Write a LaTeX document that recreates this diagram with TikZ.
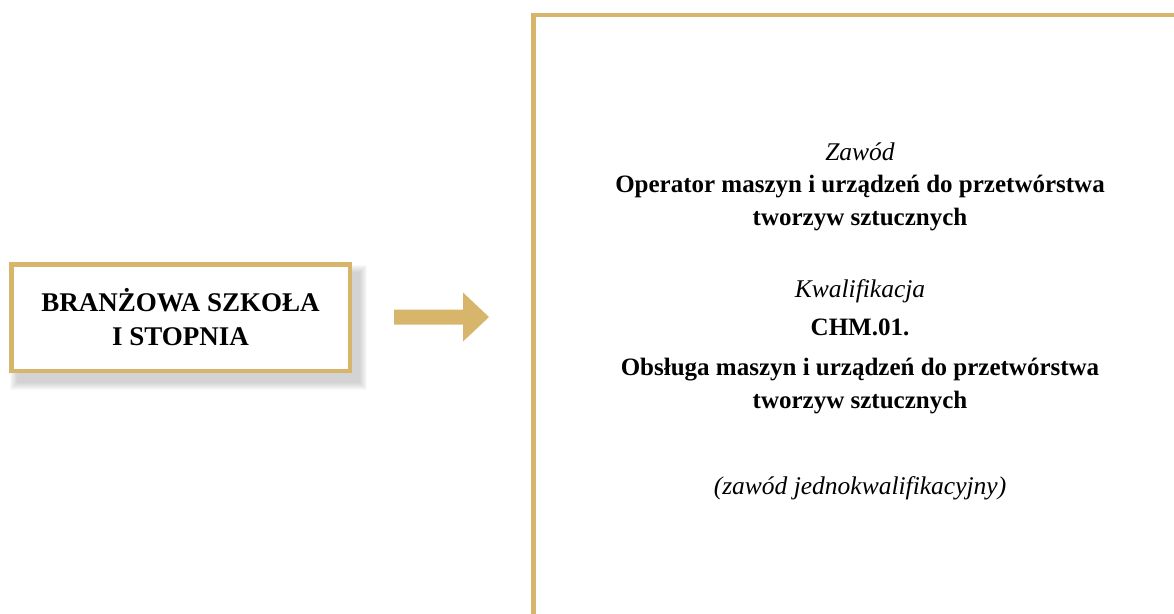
\documentclass[tikz,border=0pt]{standalone}
\usepackage{fontspec}
\setmainfont{Liberation Serif}
\usetikzlibrary{calc}
\definecolor{gold}{RGB}{215,181,106}
\pgfdeclarelayer{bg}
\pgfsetlayers{bg,main}
\tikzset{
  schoolbox/.style={draw=gold, line width=4.5pt, fill=white, minimum width=338.5pt,
    minimum height=106.5pt, inner sep=0pt, align=center,
    font=\fontsize{27}{34}\selectfont\bfseries},
  itline/.style={anchor=base, inner sep=0pt, font=\fontsize{25.5}{25.5}\selectfont\itshape},
  bdline/.style={anchor=base, inner sep=0pt, font=\fontsize{25}{25}\selectfont\bfseries},
  framebar/.style={draw=gold, line width=4.5pt, line join=miter},
  arrowfill/.style={fill=gold},
}
\begin{document}
\begin{tikzpicture}[x=1pt,y=-1pt]
\useasboundingbox (0,0) rectangle (1174,613);
\clip (0,0) rectangle (1174,613);
% left box
\node[schoolbox] (school) at (180.5,317.5) {BRANŻOWA SZKOŁA\\I STOPNIA};
\begin{pgfonlayer}{bg}
\foreach \k in {1,...,8}{
  \fill[black, opacity=0.022] ($(school.north west)+(9-\k,11-\k)$) rectangle ($(school.south east)+(7+\k,9+\k)$);
}
\end{pgfonlayer}
% right frame
\coordinate (fbot) at (533.3,620);
\coordinate (fcorner) at (533.3,15);
\coordinate (fright) at (1180,15);
\draw[framebar] (fbot) -- (fcorner) -- (fright);
% arrow
\coordinate (a1) at (394,317);
\coordinate (a2) at (489,317);
\fill[arrowfill] ($(a1)+(0,-7.5)$) -- ($(a1)+(69,-7.5)$) -- ($(a1)+(69,-24.5)$) -- (a2)
  -- ($(a1)+(69,24.5)$) -- ($(a1)+(69,7.5)$) -- ($(a1)+(0,7.5)$) -- cycle;
% right text
\node[itline] (l1) at (860,160.5) {Zawód};
\node[bdline] (l2) at (860,192.5) {Operator maszyn i urządzeń do przetwórstwa};
\node[bdline] (l3) at (860,225.5) {tworzyw sztucznych};
\node[itline] (l4) at (860,297) {Kwalifikacja};
\node[bdline] (l5) at (860,335) {CHM.01.};
\node[bdline] (l6) at (860,375.5) {Obsługa maszyn i urządzeń do przetwórstwa};
\node[bdline] (l7) at (860,408.5) {tworzyw sztucznych};
\node[itline] (l8) at (860,494) {(zawód jednokwalifikacyjny)};
\end{tikzpicture}
\end{document}
